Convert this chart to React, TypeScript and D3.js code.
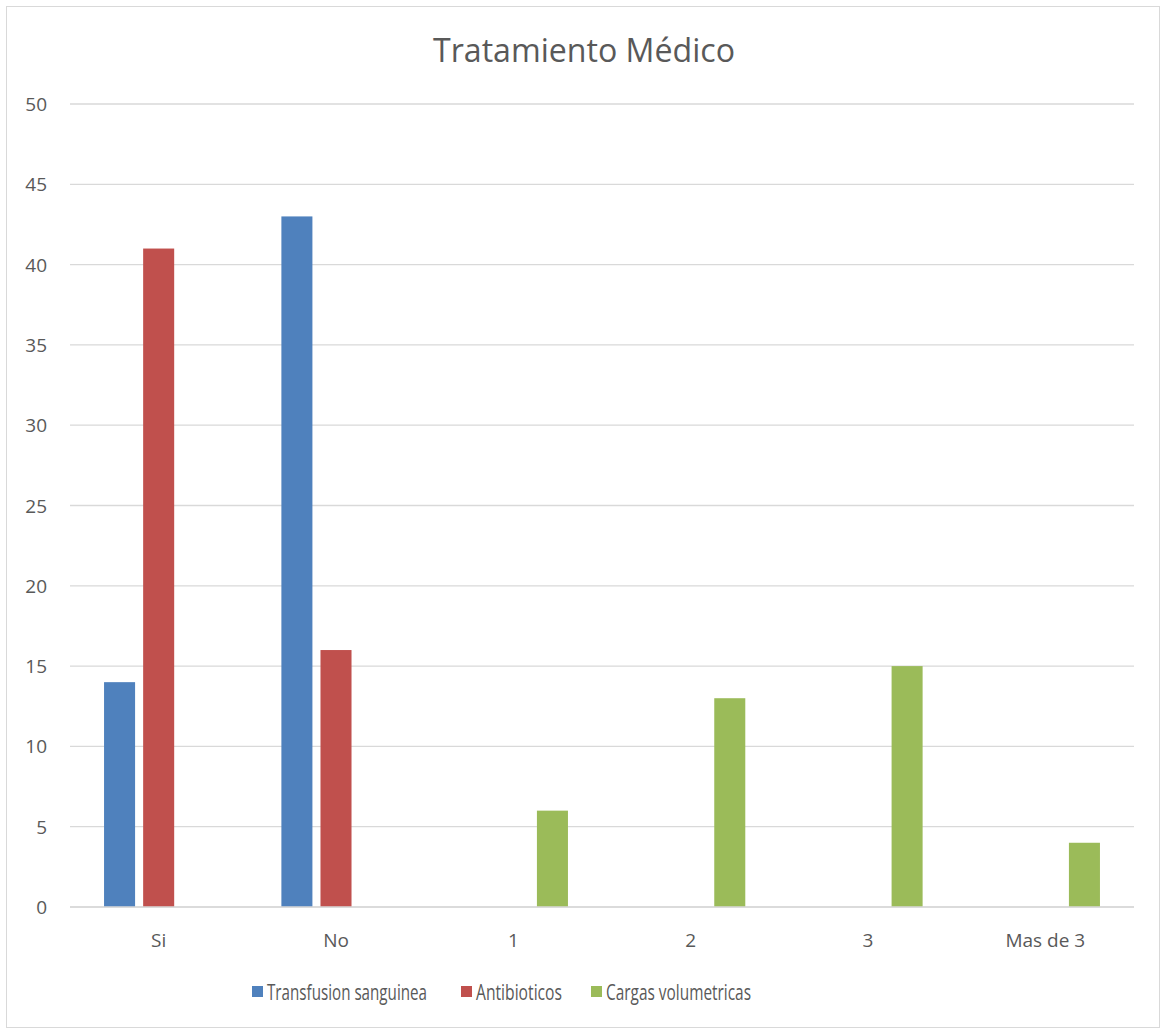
import React from "react";
import * as d3 from "d3";

const categories = ["Si", "No", "1", "2", "3", "Mas de 3"];
const seriesNames = ["Transfusion sanguinea", "Antibioticos", "Cargas volumetricas"];
const transfusion = [14, 43, 0, 0, 0, 0];
const antibioticos = [41, 16, 0, 0, 0, 0];
const cargas = [0, 0, 6, 13, 15, 4];
const colors = ["#4f81bd", "#c0504d", "#9bbb59"];
const yTicks = [0, 5, 10, 15, 20, 25, 30, 35, 40, 45, 50];

const W = 1161;
const H = 1029;
const FONT = "'Open Sans', 'Noto Sans', sans-serif";

export default function App() {
  const series = [transfusion, antibioticos, cargas];
  const x = d3.scaleBand<string>().domain(categories).range([70, 1134]).padding(0);
  const y = d3.scaleLinear().domain([0, 50]).range([907, 104]);
  const bw = x.bandwidth();
  const barW = bw * 0.175;
  const gap = barW * 0.26;
  const groupW = barW * 3 + gap * 2;

  const legendX = [252, 461, 591];
  const legendLen = [160, 86, 145];
  const sx = 0.78;

  return (
    <svg width={W} height={H} style={{ position: "absolute", left: 0, top: 0 }}>
      <rect x={0} y={0} width={W} height={H} fill="#fff" />
      <rect x={6.5} y={6.5} width={W - 8} height={H - 8} fill="none" stroke="#d9d9d9" strokeWidth={1} />
      <text
        x={433}
        y={62}
        fontFamily={FONT}
        fontSize={33}
        fill="#595959"
        textLength={302}
        lengthAdjust="spacingAndGlyphs"
      >
        Tratamiento Médico
      </text>
      {yTicks.map((t) => (
        <g key={t}>
          <line x1={70} x2={1134} y1={y(t)} y2={y(t)} stroke="#d9d9d9" strokeWidth={1.3} />
          <text x={47} y={y(t) + 7} textAnchor="end" fontFamily={FONT} fontSize={19} fill="#595959">
            {t}
          </text>
        </g>
      ))}
      {series.map((vals, si) =>
        vals.map((v, ci) => {
          if (v <= 0) return null;
          const cx = (x(categories[ci]) as number) + bw / 2;
          const bx = cx - groupW / 2 + si * (barW + gap);
          return (
            <rect key={`${si}-${ci}`} x={bx} y={y(v)} width={barW} height={y(0) - y(v)} fill={colors[si]} />
          );
        })
      )}
      <line x1={70} x2={1134} y1={y(0)} y2={y(0)} stroke="#d9d9d9" strokeWidth={1.3} />
      {categories.map((c) => (
        <text
          key={c}
          x={(x(c) as number) + bw / 2}
          y={947}
          textAnchor="middle"
          fontFamily={FONT}
          fontSize={19}
          fill="#595959"
        >
          {c}
        </text>
      ))}
      {seriesNames.map((n, i) => (
        <g key={n}>
          <rect x={legendX[i]} y={986} width={11} height={11} fill={colors[i]} />
          <g transform={`translate(${legendX[i] + 15},1000) scale(${sx},1)`}>
            <text
              x={0}
              y={0}
              fontFamily={FONT}
              fontSize={21}
              fill="#595959"
              textLength={legendLen[i] / sx}
              lengthAdjust="spacingAndGlyphs"
            >
              {n}
            </text>
          </g>
        </g>
      ))}
    </svg>
  );
}
